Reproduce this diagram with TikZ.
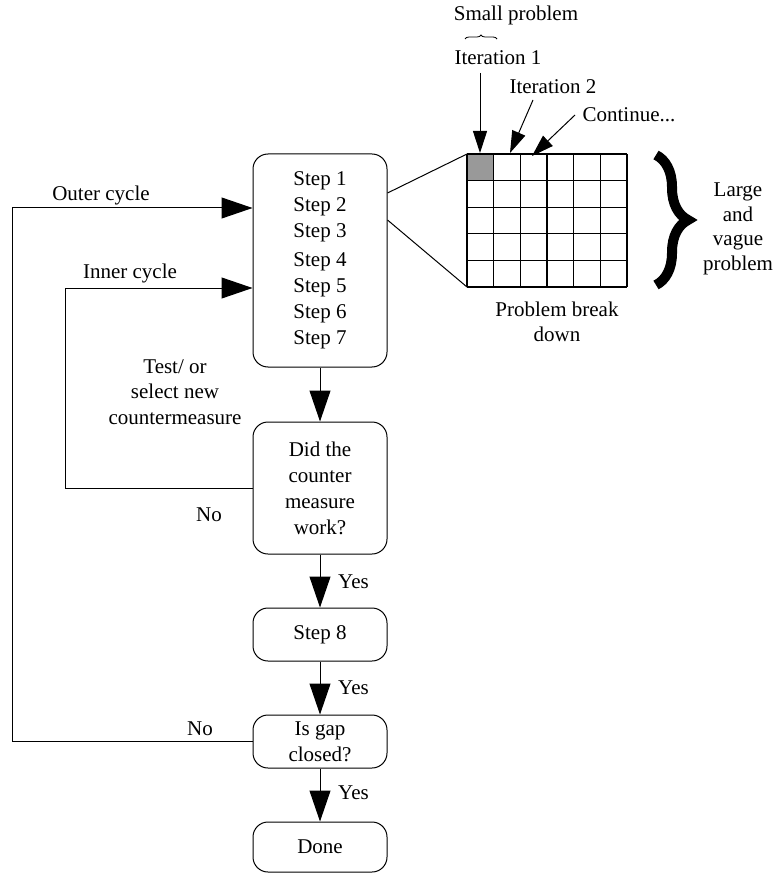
\documentclass[tikz,border=0pt]{standalone}
\usepackage{fontspec}
\setmainfont{Liberation Serif}
\usetikzlibrary{arrows.meta,decorations.pathreplacing}
\begin{document}
\begin{tikzpicture}[x=1pt,y=-1pt,
  box/.style={draw,line width=1pt,rounded corners=15pt,minimum width=134pt,inner sep=0pt,align=center,font=\fontsize{21}{26}\selectfont},
  lbl/.style={inner sep=0pt,align=center,font=\fontsize{21}{25}\selectfont},
  big/.style={line width=1pt,-{Triangle[length=31pt,width=21pt]}},
  small/.style={line width=1pt,-{Triangle[length=22pt,width=14pt]}},
  thinline/.style={line width=1pt},
  gridline/.style={line width=1.3pt}]
\useasboundingbox (0,0) rectangle (777,874);

% flow boxes
\node[box,minimum height=213pt] (steps) at (320,260.5) {Step 1\\Step 2\\Step 3\\[3pt]Step 4\\Step 5\\Step 6\\Step 7};
\node[box,minimum height=132pt] (did) at (320,488) {Did the\\counter\\measure\\work?};
\node[box,minimum height=53pt] (s8) at (320,634.5) {Step 8};
\node[box,minimum height=53pt] (gap) at (320,741.5) {Is gap\\closed?};
\node[box,minimum height=50pt] (done) at (320,847) {Done};

\draw[big] (steps) -- (did);
\draw[big] (did) -- (s8);
\draw[big] (s8) -- (gap);
\draw[big] (gap) -- (done);

\node[lbl,anchor=west] (y1) at (338,582) {Yes};
\node[lbl,anchor=west] (y2) at (338,688) {Yes};
\node[lbl,anchor=west] (y3) at (338,793) {Yes};

% loops
\coordinate (o1) at (12,741.5);
\coordinate (o2) at (12,208);
\coordinate (i1) at (65,488);
\coordinate (i2) at (65,288);
\draw[big] (gap.west) -- (o1) -- (o2) -- (steps.west |- o2);
\draw[big] (did.west) -- (i1) -- (i2) -- (steps.west |- i2);

\node[lbl] (outer) at (101,195) {Outer cycle};
\node[lbl] (inner) at (130,273) {Inner cycle};
\node[lbl,font=\fontsize{21}{25.5}\selectfont] (test) at (175,392) {Test/ or\\select new\\countermeasure};
\node[lbl] (no1) at (209,515) {No};
\node[lbl] (no2) at (200,729) {No};

% grid
\fill[black!40] (467,154) rectangle (493.67,180.6);
\foreach \i in {0,...,6} \draw[gridline] (467+\i*26.667,154) -- (467+\i*26.667,287);
\foreach \j in {0,...,5} \draw[gridline] (467,154+\j*26.6) -- (627,154+\j*26.6);
\coordinate (gtl) at (467,154);
\coordinate (gbl) at (467,287);
\coordinate (za) at (steps.east |- 0,193);
\coordinate (zb) at (steps.east |- 0,220);
\draw[thinline] (za) -- (gtl);
\draw[thinline] (zb) -- (gbl);

\node[lbl] (pbd) at (557,322) {Problem break\\down};

% top labels and arrows
\node[lbl] (smallp) at (516,15) {Small problem};
\draw[line width=0.8pt,decorate,decoration={brace,amplitude=4pt}] (465,39) -- (497,39);
\node[lbl] (it1) at (498,58) {Iteration 1};
\node[lbl] (it2) at (553,87) {Iteration 2};
\node[lbl] (cont) at (629,115) {Continue...};
\coordinate (a1s) at (480,73);
\coordinate (a1e) at (480,153);
\coordinate (a2s) at (533,100);
\coordinate (a2e) at (510,153);
\coordinate (a3s) at (575,115);
\coordinate (a3e) at (532,156);
\draw[small] (a1s) -- (a1e);
\draw[small] (a2s) -- (a2e);
\draw[small] (a3s) -- (a3e);

% big brace
\draw[line width=10pt,decorate,decoration={brace,amplitude=32pt}] (656,155) -- (656,285);
\node[lbl,font=\fontsize{21}{24.5}\selectfont] (large) at (738,229) {Large\\and\\vague\\problem};
\end{tikzpicture}
\end{document}
